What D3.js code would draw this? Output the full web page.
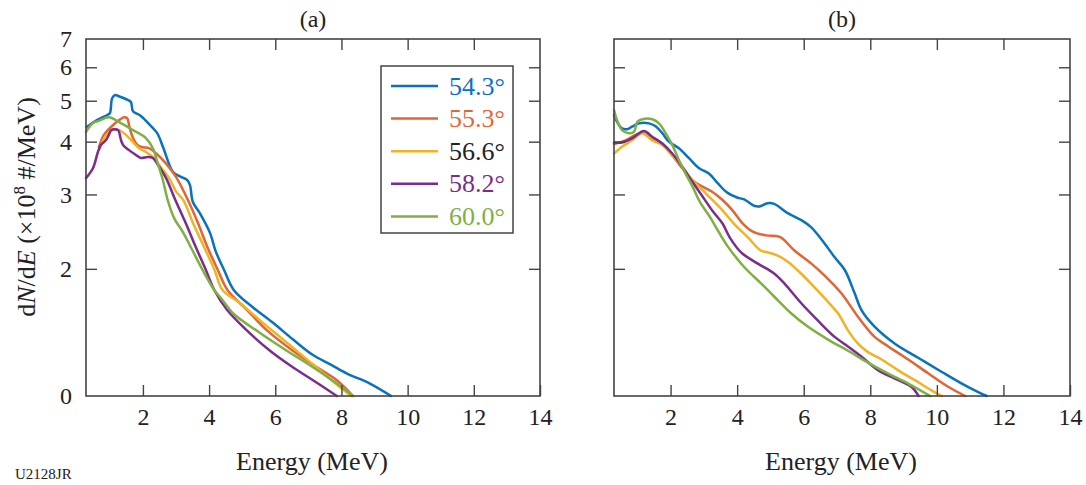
<!DOCTYPE html>
<html>
<head>
<meta charset="utf-8">
<script src="https://cdn.jsdelivr.net/npm/d3@7"></script>
<style>
  html, body { margin: 0; padding: 0; background: #fff; }
  svg { display: block; }
  text { font-family: "Liberation Serif", "Times New Roman", serif; fill: #222; }
</style>
</head>
<body>
<svg id="chart" width="1086" height="485"></svg>
<script>
// ---------- data ----------
const energyTicks = [2, 4, 6, 8, 10, 12, 14];
const yTickValues = [1, 2, 3, 4, 5, 6, 7];
const yTickLabels = ["0", "2", "3", "4", "5", "6", "7"];
const seriesNames = ["54.3°", "55.3°", "56.6°", "58.2°", "60.0°"];
const panelTitles = ["(a)", "(b)"];

// panel (a): [energy MeV, dN/dE]
const a_543 = [[0.30,4.33],[0.61,4.50],[0.91,4.62],[1.00,4.67],[1.07,5.07],[1.16,5.16],[1.25,5.13],[1.55,5.02],[1.64,4.96],[1.70,4.72],[1.91,4.62],[2.15,4.43],[2.43,4.19],[2.61,3.88],[2.91,3.39],[3.15,3.30],[3.33,3.25],[3.42,3.16],[3.51,2.88],[3.72,2.71],[4.03,2.43],[4.20,2.20],[4.45,1.99],[4.75,1.78],[5.33,1.62],[5.93,1.49],[6.54,1.36],[7.14,1.25],[7.65,1.19],[8.17,1.13],[8.86,1.07],[9.50,1.00]];
const a_553 = [[0.67,3.88],[0.82,4.15],[1.10,4.38],[1.28,4.50],[1.43,4.57],[1.52,4.55],[1.60,4.31],[1.70,4.08],[1.85,3.92],[2.00,3.88],[2.18,3.86],[2.40,3.75],[2.70,3.55],[3.00,3.30],[3.36,2.91],[3.67,2.56],[3.95,2.25],[4.26,1.99],[4.56,1.78],[5.14,1.60],[5.75,1.43],[6.53,1.28],[7.26,1.17],[7.86,1.09],[8.35,1.00]];
const a_566 = [[0.70,3.85],[0.85,4.10],[1.05,4.25],[1.13,4.27],[1.28,4.26],[1.49,4.15],[1.70,3.99],[1.88,3.86],[2.09,3.78],[2.30,3.68],[2.49,3.52],[2.79,3.28],[3.00,3.05],[3.22,2.91],[3.52,2.56],[3.85,2.25],[4.16,1.99],[4.41,1.78],[4.93,1.66],[5.54,1.51],[6.14,1.38],[6.75,1.26],[7.35,1.15],[7.95,1.05],[8.30,1.00]];
const a_582 = [[0.28,3.28],[0.49,3.46],[0.64,3.78],[0.73,3.93],[0.88,4.03],[0.97,4.15],[1.04,4.26],[1.13,4.28],[1.25,4.26],[1.34,4.03],[1.40,3.93],[1.58,3.82],[1.79,3.72],[1.94,3.66],[2.15,3.68],[2.30,3.66],[2.46,3.52],[2.70,3.28],[2.98,2.91],[3.30,2.56],[3.60,2.25],[3.90,1.99],[4.16,1.78],[4.54,1.60],[5.14,1.43],[5.84,1.28],[6.53,1.17],[7.14,1.09],[7.86,1.00]];
const a_600 = [[0.28,4.22],[0.49,4.43],[0.67,4.48],[0.97,4.57],[1.28,4.45],[1.70,4.26],[2.09,4.08],[2.30,3.86],[2.45,3.55],[2.60,3.25],[2.75,2.91],[2.95,2.63],[3.20,2.45],[3.50,2.21],[3.80,1.99],[4.16,1.78],[4.40,1.69],[4.72,1.57],[5.54,1.41],[6.35,1.28],[7.14,1.17],[7.86,1.07],[8.35,1.00]];

// panel (b)
const b_543 = [[0.30,4.62],[0.39,4.46],[0.54,4.30],[0.69,4.28],[0.84,4.34],[1.05,4.42],[1.35,4.42],[1.55,4.35],[1.75,4.19],[1.95,4.00],[2.25,3.86],[2.56,3.65],[2.86,3.46],[3.16,3.36],[3.40,3.20],[3.70,3.03],[4.00,2.95],[4.21,2.92],[4.51,2.82],[4.67,2.81],[4.91,2.86],[5.11,2.85],[5.52,2.71],[5.92,2.61],[6.22,2.51],[6.62,2.30],[6.93,2.13],[7.23,1.99],[7.53,1.75],[7.73,1.60],[8.13,1.46],[8.74,1.33],[9.45,1.23],[10.15,1.14],[10.75,1.07],[11.26,1.02],[11.50,1.00]];
const b_553 = [[0.30,3.95],[0.64,4.03],[0.94,4.15],[1.15,4.20],[1.45,4.07],[1.75,3.96],[2.05,3.71],[2.35,3.46],[2.66,3.24],[2.96,3.13],[3.26,3.04],[3.56,2.91],[3.86,2.75],[4.17,2.56],[4.47,2.45],[4.87,2.40],[5.28,2.38],[5.72,2.21],[6.22,2.06],[6.62,1.93],[7.13,1.75],[7.63,1.54],[8.13,1.38],[8.54,1.31],[9.14,1.22],[9.75,1.13],[10.35,1.05],[10.85,1.00]];
const b_566 = [[0.30,3.75],[0.54,3.89],[0.84,4.03],[1.15,4.19],[1.45,4.03],[1.75,3.93],[2.05,3.71],[2.35,3.49],[2.66,3.24],[2.96,3.07],[3.26,2.91],[3.56,2.75],[3.90,2.56],[4.31,2.38],[4.71,2.21],[4.91,2.19],[5.22,2.15],[5.52,2.08],[5.92,1.95],[6.32,1.81],[6.73,1.67],[7.03,1.57],[7.33,1.43],[7.63,1.33],[7.93,1.27],[8.34,1.22],[8.84,1.15],[9.34,1.09],[9.85,1.03],[10.15,1.00]];
const b_582 = [[0.30,3.98],[0.54,3.98],[0.84,4.07],[1.20,4.24],[1.45,4.11],[1.75,3.96],[2.05,3.75],[2.35,3.49],[2.66,3.21],[2.93,2.99],[3.28,2.73],[3.56,2.56],[3.78,2.37],[4.11,2.19],[4.61,2.06],[5.11,1.95],[5.41,1.85],[5.92,1.66],[6.42,1.51],[6.93,1.38],[7.33,1.31],[7.73,1.24],[8.24,1.15],[8.74,1.10],[9.24,1.05],[9.45,1.00]];
const b_600 = [[0.30,4.75],[0.39,4.50],[0.54,4.26],[0.74,4.19],[0.90,4.22],[1.00,4.46],[1.15,4.52],[1.45,4.52],[1.65,4.42],[1.85,4.19],[2.05,3.93],[2.25,3.62],[2.45,3.36],[2.66,3.13],[2.88,2.88],[3.20,2.64],[3.40,2.48],[3.70,2.27],[4.21,2.02],[4.71,1.85],[5.11,1.72],[5.62,1.57],[6.12,1.46],[6.73,1.36],[7.33,1.28],[7.93,1.20],[8.54,1.13],[9.14,1.07],[9.80,1.00]];

const panelA = [a_543, a_553, a_566, a_582, a_600];
const panelB = [b_543, b_553, b_566, b_582, b_600];

// ---------- styles ----------
const lineColors = ["#0a72bd", "#df6637", "#f1b324", "#7b2d8e", "#7eb043"];
const labelColors = ["#0a72bd", "#df6637", "#222222", "#7b2d8e", "#7eb043"];
const axisColor = "#444";

const svg = d3.select("#chart");
const H = { top: 39, bottom: 396 };
const panels = [
  { left: 86, right: 540, xmin: 0.28, data: panelA, labels: true, title: panelTitles[0] },
  { left: 614, right: 1070, xmin: 0.30, data: panelB, labels: false, title: panelTitles[1] }
];

panels.forEach((p) => {
  const x = d3.scaleLinear().domain([p.xmin, 14]).range([p.left, p.right]);
  const y = d3.scaleLog().domain([1, 7]).range([H.bottom, H.top]);
  const g = svg.append("g");

  // lines
  const line = d3.line().x(d => x(d[0])).y(d => y(d[1])).curve(d3.curveCatmullRom.alpha(0.5));
  p.data.forEach((s, i) => {
    g.append("path").datum(s)
      .attr("d", line)
      .attr("fill", "none")
      .attr("stroke", lineColors[i])
      .attr("stroke-width", 2.5)
      .attr("stroke-linejoin", "round")
      .attr("stroke-linecap", "round");
  });

  // axes
  const styleAxis = (sel, showLabels) => {
    sel.select(".domain").remove();
    sel.selectAll(".tick line").attr("stroke", axisColor).attr("stroke-width", 1.4);
    sel.selectAll(".tick text").attr("font-family", "Liberation Serif").attr("font-size", 24).attr("fill", "#222");
    if (!showLabels) sel.selectAll(".tick text").remove();
  };

  const bottom = g.append("g").attr("transform", `translate(0,${H.bottom})`)
    .call(d3.axisBottom(x).tickValues(energyTicks).tickSize(-11).tickPadding(12).tickFormat(d3.format("d")));
  styleAxis(bottom, true);

  const top = g.append("g").attr("transform", `translate(0,${H.top})`)
    .call(d3.axisTop(x).tickValues(energyTicks.filter(d => d < 14)).tickSize(-11));
  styleAxis(top, false);

  const left = g.append("g").attr("transform", `translate(${p.left},0)`)
    .call(d3.axisLeft(y).tickValues(yTickValues).tickSize(-11).tickPadding(14)
      .tickFormat((d) => yTickLabels[yTickValues.indexOf(d)]));
  styleAxis(left, p.labels);
  left.selectAll(".tick").filter(d => d === 1 || d === 7).select("line").remove();

  const right = g.append("g").attr("transform", `translate(${p.right},0)`)
    .call(d3.axisRight(y).tickValues(yTickValues.filter(d => d > 1 && d < 7)).tickSize(-11));
  styleAxis(right, false);

  // frame
  g.append("rect")
    .attr("x", p.left).attr("y", H.top)
    .attr("width", p.right - p.left).attr("height", H.bottom - H.top)
    .attr("fill", "none").attr("stroke", axisColor).attr("stroke-width", 1.6);

  // title
  g.append("text").attr("x", (p.left + p.right) / 2).attr("y", 27)
    .attr("text-anchor", "middle").attr("font-size", 24).text(p.title);

  // x label
  g.append("text").attr("x", (p.left + p.right) / 2 - 1).attr("y", 470)
    .attr("text-anchor", "middle").attr("font-size", 26).text("Energy (MeV)");
});

// y label
const yl = svg.append("text")
  .attr("transform", "translate(35,207) rotate(-90)")
  .attr("text-anchor", "middle").attr("font-size", 26);
yl.append("tspan").text("d");
yl.append("tspan").attr("font-style", "italic").text("N");
yl.append("tspan").text("/d");
yl.append("tspan").attr("font-style", "italic").text("E");
yl.append("tspan").text(" (×10");
yl.append("tspan").attr("font-size", 17).attr("dy", -10).text("8");
yl.append("tspan").attr("dy", 10).text(" #/MeV)");

// legend
const lg = svg.append("g");
lg.append("rect").attr("x", 381).attr("y", 66).attr("width", 132).attr("height", 167)
  .attr("fill", "#fff").attr("stroke", axisColor).attr("stroke-width", 1.5);
seriesNames.forEach((name, i) => {
  const yy = 86 + i * 32.6;
  lg.append("line").attr("x1", 391).attr("x2", 438).attr("y1", yy).attr("y2", yy)
    .attr("stroke", lineColors[i]).attr("stroke-width", 2.5);
  lg.append("text").attr("x", 449).attr("y", yy + 8.5).attr("font-size", 26)
    .attr("fill", labelColors[i]).style("fill", labelColors[i]).text(name);
});

// figure id
svg.append("text").attr("x", 15).attr("y", 479).attr("font-size", 15).text("U2128JR");
</script>
</body>
</html>
